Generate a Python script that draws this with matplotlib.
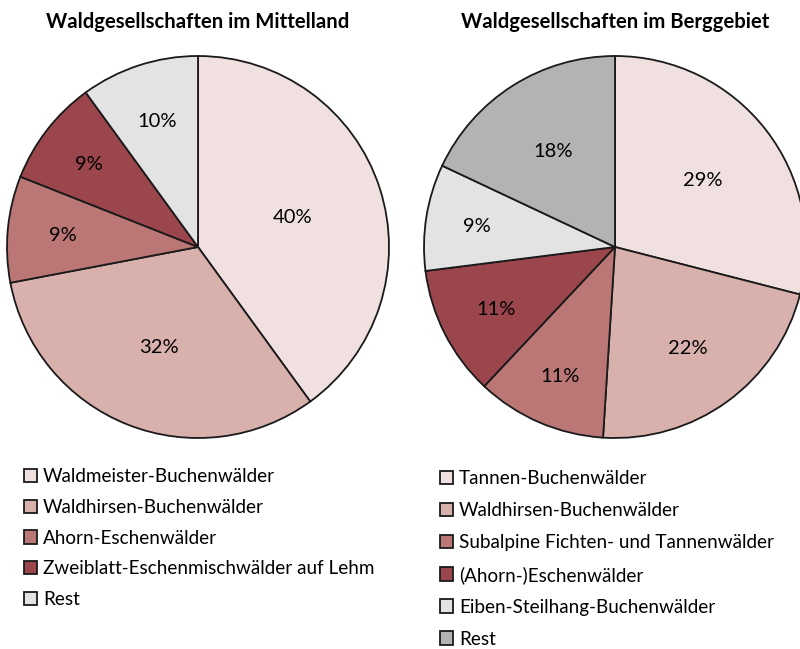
import matplotlib.pyplot as plt
import numpy as np

left_title = "Waldgesellschaften im Mittelland"
left_labels = [
    "Waldmeister-Buchenwälder",
    "Waldhirsen-Buchenwälder",
    "Ahorn-Eschenwälder",
    "Zweiblatt-Eschenmischwälder auf Lehm",
    "Rest",
]
left_values = [40, 32, 9, 9, 10]
left_colors = ["#f0e0df", "#d8b1ac", "#bb7775", "#9a464c", "#e3e3e3"]

right_title = "Waldgesellschaften im Berggebiet"
right_labels = [
    "Tannen-Buchenwälder",
    "Waldhirsen-Buchenwälder",
    "Subalpine Fichten- und Tannenwälder",
    "(Ahorn-)Eschenwälder",
    "Eiben-Steilhang-Buchenwälder",
    "Rest",
]
right_values = [29, 22, 11, 11, 9, 18]
right_colors = ["#f0e0df", "#d8b1ac", "#bb7775", "#9a464c", "#e3e3e3", "#b3b3b3"]

# radial position of the percentage labels (fraction of the radius)
left_label_r = [0.52, 0.56, 0.71, 0.72, 0.70]
right_label_r = [0.58, 0.65, 0.73, 0.70, 0.73, 0.60]

plt.rcParams["font.family"] = ["Lato", "DejaVu Sans"]

W, H = 800, 649
fig = plt.figure(figsize=(W / 100, H / 100), dpi=100)


def draw_pie(cx, cy, r, values, colors, labels, label_r, title, legend_x, legend_y, spacing):
    ax = fig.add_axes([(cx - r) / W, (H - cy - r) / H, 2 * r / W, 2 * r / H])
    wedges, _ = ax.pie(
        values,
        colors=colors,
        startangle=90,
        counterclock=False,
        radius=1.0,
        wedgeprops=dict(edgecolor="#1a1a1a", linewidth=1.3),
    )
    total = sum(values)
    angle = 90.0
    for v, d in zip(values, label_r):
        mid = np.deg2rad(angle - 360 * v / total / 2)
        ax.text(d * np.cos(mid), d * np.sin(mid), f"{v}%",
                ha="center", va="center_baseline", fontsize=14.5)
        angle -= 360 * v / total
    ax.set_xlim(-1, 1)
    ax.set_ylim(-1, 1)
    ax.set_aspect("equal")
    ax.axis("off")
    fig.text(cx / W, 1 - 22 / H, title, ha="center", va="center",
             fontsize=14.6, fontweight="bold")
    fig.legend(
        wedges, labels,
        loc="upper left",
        bbox_to_anchor=(legend_x / W, 1 - legend_y / H),
        frameon=False,
        fontsize=13.6,
        handlelength=0.7,
        handleheight=0.7,
        handletextpad=0.3,
        labelspacing=spacing,
        borderaxespad=0,
        borderpad=0,
    )


draw_pie(198, 247, 191, left_values, left_colors, left_labels, left_label_r,
         left_title, 24, 468, 0.73)
draw_pie(615, 247, 191, right_values, right_colors, right_labels, right_label_r,
         right_title, 440, 470, 0.79)

fig.savefig("out.png", dpi=100)
